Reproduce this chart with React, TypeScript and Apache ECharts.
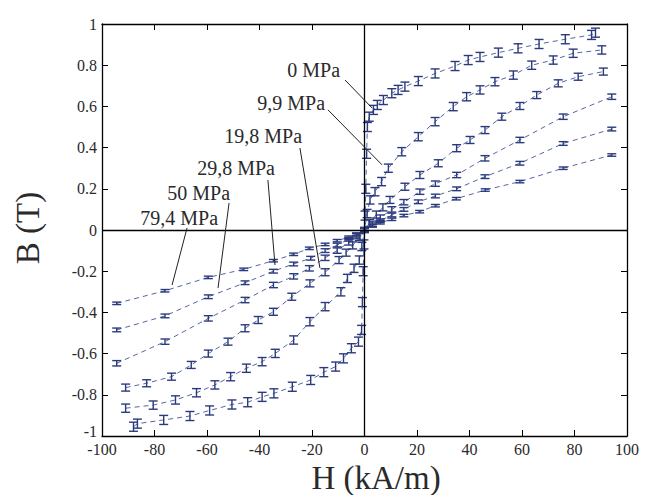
import React, { useEffect, useRef } from "react";
import * as echarts from "echarts";

// ---------- data ----------
const curveNames = ["0 MPa", "9,9 MPa", "19,8 MPa", "29,8 MPa", "50 MPa", "79,4 MPa"];

const h0 = [-88, -86.5, -76.5, -66.5, -59, -50.5, -44.5, -39, -34.5, -27.5, -20.5, -15.5, -11, -8, -5, -2.3, -1.1, -0.8, -0.5, -0.2, 0.2, 0.5, 0.8, 1.1, 1.8, 3.4, 4.9, 7.2, 10.4, 12.8, 15.4, 20.5, 26.9, 34.5, 39.5, 44, 51, 58.5, 66.5, 76.5, 86.5, 88];
const b0 = [-0.955, -0.94, -0.922, -0.903, -0.876, -0.847, -0.836, -0.81, -0.793, -0.761, -0.728, -0.69, -0.663, -0.623, -0.574, -0.542, -0.485, -0.35, -0.2, -0.07, 0.07, 0.2, 0.37, 0.5, 0.55, 0.583, 0.607, 0.631, 0.664, 0.68, 0.696, 0.723, 0.76, 0.796, 0.825, 0.84, 0.861, 0.882, 0.903, 0.926, 0.947, 0.958];

const h1 = [-91, -80.5, -72, -64, -57, -51, -45, -39, -34, -27, -20.8, -15, -9, -6.5, -4, -2, -1, 1, 2.1, 4, 6.5, 9.1, 14.2, 20.5, 26.9, 33.8, 38.9, 44, 49.7, 56.7, 63.7, 71.9, 79.5, 90.4];
const b1 = [-0.865, -0.85, -0.825, -0.79, -0.752, -0.712, -0.671, -0.639, -0.599, -0.534, -0.445, -0.372, -0.3, -0.235, -0.186, -0.146, -0.08, 0.08, 0.146, 0.186, 0.235, 0.3, 0.38, 0.453, 0.526, 0.599, 0.647, 0.68, 0.72, 0.752, 0.8, 0.825, 0.858, 0.874];

const h2 = [-91, -83, -73.5, -66, -59.5, -52, -45.5, -40.5, -34.7, -27.7, -20.8, -15, -9.7, -7, -4.5, -2, 2, 4.5, 7, 9.7, 15.4, 21.1, 28.1, 35.1, 40.2, 45.9, 52.3, 59.2, 65.6, 73.8, 81.4, 91];
const b2 = [-0.765, -0.744, -0.712, -0.655, -0.6, -0.542, -0.477, -0.437, -0.397, -0.324, -0.259, -0.205, -0.146, -0.11, -0.075, -0.035, 0.035, 0.075, 0.11, 0.146, 0.21, 0.267, 0.324, 0.397, 0.437, 0.485, 0.55, 0.602, 0.655, 0.712, 0.744, 0.769];

const h3 = [-94.4, -76, -59.5, -45.5, -34.7, -27, -21, -15, -10.4, -6, -3, 0, 3, 6, 10.4, 15, 21.1, 27, 35.1, 45.9, 59.2, 75.7, 94.2];
const b3 = [-0.647, -0.542, -0.429, -0.34, -0.267, -0.225, -0.186, -0.135, -0.1, -0.06, -0.03, 0, 0.03, 0.06, 0.1, 0.135, 0.186, 0.225, 0.267, 0.348, 0.437, 0.55, 0.647];

const h4 = [-94.4, -76, -59.5, -45.5, -34.7, -27, -20.5, -15, -10.4, -6, -3, 0, 3, 6, 10.4, 15, 20.5, 27, 35.1, 45.9, 59.2, 75.7, 94.2];
const b4 = [-0.485, -0.417, -0.324, -0.256, -0.2, -0.165, -0.137, -0.1, -0.073, -0.045, -0.025, 0, 0.025, 0.045, 0.073, 0.1, 0.137, 0.165, 0.2, 0.259, 0.324, 0.42, 0.49];

const h5 = [-94.4, -76, -59.5, -46, -34.7, -27, -21, -15, -10.4, -6, -3, 0, 3, 6, 10.4, 15, 21, 27, 35, 46, 59.2, 75.7, 94.2];
const b5 = [-0.356, -0.295, -0.23, -0.191, -0.149, -0.118, -0.089, -0.07, -0.052, -0.035, -0.02, 0, 0.02, 0.035, 0.052, 0.07, 0.089, 0.118, 0.152, 0.194, 0.235, 0.3, 0.364];

const curveH = [h0, h1, h2, h3, h4, h5];
const curveB = [b0, b1, b2, b3, b4, b5];
const curveErr = [0.022, 0.02, 0.017, 0.013, 0.009, 0.006];

// ---------- annotation geometry (label anchor, leader start, leader end; data units) ----------
const annotations = [
  { text: "0 MPa", at: [-9.3, 0.777], from: [-7.4, 0.728], to: [2.9, 0.592] },
  { text: "9,9 MPa", at: [-15, 0.617], from: [-13.9, 0.583], to: [6.7, 0.316] },
  { text: "19,8 MPa", at: [-23.8, 0.456], from: [-24.6, 0.398], to: [-17, -0.184] },
  { text: "29,8 MPa", at: [-34.1, 0.301], from: [-36.8, 0.243], to: [-34.1, -0.17] },
  { text: "50 MPa", at: [-51.2, 0.18], from: [-51.6, 0.131], to: [-55.8, -0.282] },
  { text: "79,4 MPa", at: [-55.8, 0.058], from: [-67.6, 0.01], to: [-73.3, -0.267] },
];

const BAR_COLOR = "#2b3a7c";
const LINE_COLOR = "#5566a3";
const TEXT_COLOR = "#2a2a2a";
const SERIF = "Liberation Serif";

export default function App() {
  const ref = useRef<HTMLDivElement>(null);

  useEffect(() => {
    if (!ref.current) return;
    const chart = echarts.init(ref.current, undefined, { renderer: "svg" });

    const lineSeries = curveNames.map((name, k) => ({
      name,
      type: "line",
      data: curveH[k].map((h, i) => [h, curveB[k][i]]),
      showSymbol: false,
      symbol: "none",
      lineStyle: { color: LINE_COLOR, width: 1, type: [5, 4] },
      z: 2,
      silent: true,
      ...(k === 0
        ? {
            markLine: {
              symbol: "none",
              silent: true,
              label: { show: false },
              lineStyle: { color: "#000", type: "solid", width: 1.3 },
              data: [{ xAxis: 0 }, { yAxis: 0 }],
            },
          }
        : {}),
    }));

    const errSeries = curveNames.map((name, k) => ({
      name: name + " err",
      type: "custom",
      coordinateSystem: "cartesian2d",
      data: curveH[k].map((h, i) => [h, curveB[k][i], curveErr[k]]),
      encode: { x: 0, y: 1 },
      z: 3,
      silent: true,
      renderItem: (_p: any, api: any) => {
        const x = api.value(0);
        const y = api.value(1);
        const e = api.value(2);
        const t = api.coord([x, y + e]);
        const b = api.coord([x, y - e]);
        const hw = 4.5;
        const st = { stroke: BAR_COLOR, lineWidth: 1.4 };
        return {
          type: "group",
          children: [
            { type: "line", shape: { x1: t[0], y1: t[1], x2: b[0], y2: b[1] }, style: st },
            { type: "line", shape: { x1: t[0] - hw, y1: t[1], x2: t[0] + hw, y2: t[1] }, style: st },
            { type: "line", shape: { x1: b[0] - hw, y1: b[1], x2: b[0] + hw, y2: b[1] }, style: st },
          ],
        };
      },
    }));

    const annSeries = {
      type: "custom",
      coordinateSystem: "cartesian2d",
      data: annotations.map((a, i) => [a.at[0], a.at[1], i]),
      encode: { x: 0, y: 1 },
      z: 5,
      silent: true,
      renderItem: (_p: any, api: any) => {
        const i = api.value(2);
        const a = annotations[i];
        const p = api.coord(a.at);
        const f = api.coord(a.from);
        const t = api.coord(a.to);
        return {
          type: "group",
          children: [
            {
              type: "text",
              style: {
                text: a.text,
                x: p[0],
                y: p[1],
                fill: TEXT_COLOR,
                fontFamily: SERIF,
                fontSize: 20,
                align: "right",
                verticalAlign: "middle",
              },
            },
            {
              type: "line",
              shape: { x1: f[0], y1: f[1], x2: t[0], y2: t[1] },
              style: { stroke: "#222", lineWidth: 1 },
            },
          ],
        };
      },
    };

    const axisLine = { show: true, onZero: false, lineStyle: { color: "#000", width: 1.3 } };
    const axisTick = { show: true, inside: true, length: 6, lineStyle: { color: "#000", width: 1 } };
    const label = { color: TEXT_COLOR, fontFamily: SERIF, fontSize: 16 };

    chart.setOption({
      animation: false,
      backgroundColor: "#fff",
      grid: { left: 102, right: 21, top: 24, bottom: 59, containLabel: false },
      xAxis: [
        {
          type: "value", min: -100, max: 100, interval: 20, position: "bottom",
          axisLine, axisTick, splitLine: { show: false },
          axisLabel: { ...label, margin: 5 },
        },
        {
          type: "value", min: -100, max: 100, interval: 20, position: "top",
          axisLine, axisTick, splitLine: { show: false }, axisLabel: { show: false },
        },
      ],
      yAxis: [
        {
          type: "value", min: -1, max: 1, interval: 0.2, position: "left",
          axisLine, axisTick, splitLine: { show: false },
          axisLabel: {
            ...label,
            margin: 5,
            formatter: (v: number) => (v === -1 ? "{lo|-1}" : String(Math.round(v * 10) / 10)),
            rich: { lo: { ...label, padding: [0, 0, 9, 0] } },
          },
        },
        {
          type: "value", min: -1, max: 1, interval: 0.2, position: "right",
          axisLine, axisTick, splitLine: { show: false }, axisLabel: { show: false },
        },
      ],
      series: [...lineSeries, ...errSeries, annSeries],
      graphic: [
        {
          type: "text",
          x: 376,
          y: 478,
          style: {
            text: "H (kA/m)",
            fontFamily: SERIF,
            fontSize: 33,
            fill: TEXT_COLOR,
            align: "center",
            verticalAlign: "middle",
          },
        },
        {
          type: "text",
          x: 28,
          y: 228,
          rotation: Math.PI / 2,
          style: {
            text: "B (T)",
            fontFamily: SERIF,
            fontSize: 33,
            fill: TEXT_COLOR,
            align: "center",
            verticalAlign: "middle",
          },
        },
      ],
    });

    return () => chart.dispose();
  }, []);

  return (
    <div
      ref={ref}
      style={{ position: "fixed", left: 0, top: 0, width: 648, height: 495, background: "#fff" }}
    />
  );
}
